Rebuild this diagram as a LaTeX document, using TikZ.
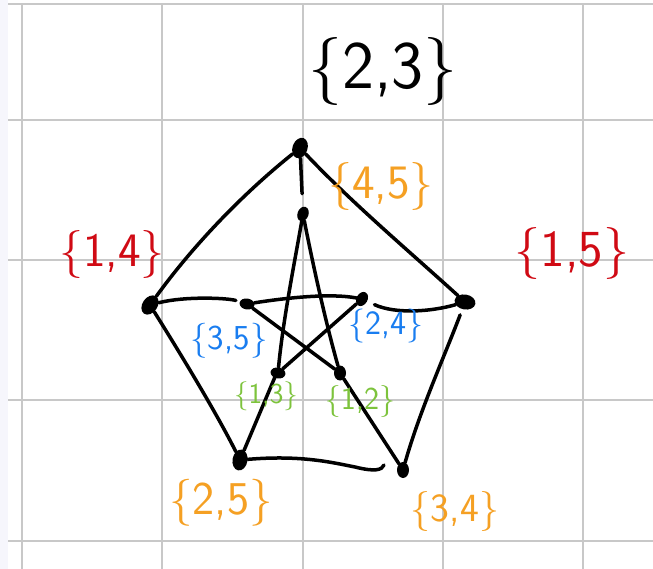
\documentclass[tikz,border=0pt]{standalone}
\usetikzlibrary{shapes.geometric}
\definecolor{gridc}{RGB}{200,200,200}
\definecolor{stripc}{RGB}{246,246,252}
\definecolor{hred}{RGB}{208,10,20}
\definecolor{horange}{RGB}{245,160,35}
\definecolor{hblue}{RGB}{25,125,240}
\definecolor{hgreen}{RGB}{125,195,60}
\begin{document}
\begin{tikzpicture}[x=1pt,y=-1pt,
  vert/.style={ellipse,fill=black,inner sep=0pt},
  outerv/.style={vert,minimum width=15pt,minimum height=21pt},
  innerv/.style={vert,minimum width=11pt,minimum height=15pt},
  edge/.style={line width=3.5pt,line cap=round,black},
  lab/.style={font=\sffamily,inner sep=0pt},
  gridline/.style={gridc,line width=1.4pt}]
\useasboundingbox (0,0) rectangle (653,569);
\fill[white] (0,0) rectangle (653,569);
\fill[stripc] (0,0) rectangle (8,569);
% grid
\foreach \gx in {22,162,303,443,583} \draw[gridline] (\gx,4) -- (\gx,569);
\foreach \gy in {4,120,260,400,541} \draw[gridline] (8,\gy) -- (653,\gy);
% vertices
\node[outerv,rotate=-20] (o23) at (300,148) {};
\node[innerv,rotate=-20] (i45) at (303,214) {};
\node[outerv,rotate=-35] (o14) at (150,305) {};
\node[outerv,rotate=80] (o15) at (465,302) {};
\node[innerv,rotate=80] (i35) at (247,304) {};
\node[innerv,rotate=-30] (i24) at (362,299) {};
\node[innerv,rotate=80] (i13) at (278,373) {};
\node[innerv,minimum width=12pt] (i12) at (340,373) {};
\node[innerv,minimum width=12pt,minimum height=16pt] (o34) at (403,470) {};
\node[outerv,rotate=-10] (o25) at (240,460) {};
\coordinate (e34) at (384,465);
% outer pentagon
\draw[edge] (o23) .. controls (245,192) and (195,243) .. (o14);
\draw[edge] (o23) .. controls (352,203) and (410,252) .. (o15);
\draw[edge] (o14) .. controls (175,345) and (215,410) .. (o25);
\draw[edge,shorten <=6pt] (o15) .. controls (445,355) and (420,410) .. (o34);
\draw[edge] (o25) .. controls (300,455) and (330,462) .. (355,467) .. controls (375,472) and (382,470) .. (e34);
% spokes
\draw[edge,shorten >=13pt] (o23) -- (i45);
\draw[edge,shorten >=4pt] (o14) .. controls (185,296) and (228,298) .. (i35);
\draw[edge,shorten >=8pt] (o15) .. controls (430,312) and (395,314) .. (i24);
\draw[edge,shorten >=4pt] (o25) -- (i13.east);
\draw[edge] (o34) -- (i12);
% inner star
\draw[edge] (i45) .. controls (295,260) and (283,320) .. (i13);
\draw[edge] (i45) .. controls (312,260) and (325,320) .. (i12);
\draw[edge] (i35) .. controls (285,298) and (330,293) .. (i24);
\draw[edge] (i35) -- (i12);
\draw[edge] (i24) -- (i13);
% labels
\node[lab,font=\sffamily\fontsize{68}{68}\selectfont] (l23) at (383,72) {\{2,3\}};
\node[lab,horange,font=\sffamily\fontsize{48}{48}\selectfont] (l45) at (381,187) {\{4,5\}};
\node[lab,hred,font=\sffamily\fontsize{48}{48}\selectfont] (l14) at (112,255) {\{1,4\}};
\node[lab,hred,font=\sffamily\fontsize{52}{52}\selectfont] (l15) at (572,254) {\{1,5\}};
\node[lab,hblue,font=\sffamily\fontsize{35}{35}\selectfont] (l35) at (229,341) {\{3,5\}};
\node[lab,hblue,font=\sffamily\fontsize{34}{34}\selectfont] (l24) at (386,326) {\{2,4\}};
\node[lab,hgreen,font=\sffamily\fontsize{29}{29}\selectfont] (l13) at (266,396) {\{1,3\}};
\node[lab,hgreen,font=\sffamily\fontsize{32}{32}\selectfont] (l12) at (360,401) {\{1,2\}};
\node[lab,horange,font=\sffamily\fontsize{47}{47}\selectfont] (l25) at (221,503) {\{2,5\}};
\node[lab,horange,font=\sffamily\fontsize{40}{40}\selectfont] (l34) at (455,511) {\{3,4\}};
\end{tikzpicture}
\end{document}
